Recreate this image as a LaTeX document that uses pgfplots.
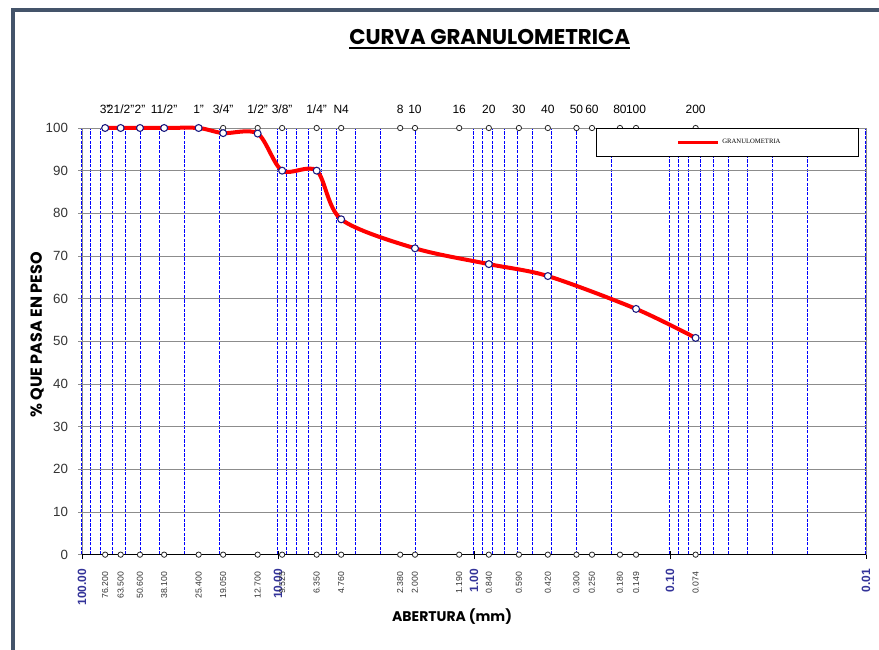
\documentclass[border=0pt]{standalone}
\usepackage{fontspec}
\setmainfont{Liberation Sans}
\newfontfamily\pop{Poppins}
\newfontfamily\timesf{Liberation Serif}
\usepackage{pgfplots}
\pgfplotsset{compat=1.18}
\usepackage{pgfplotstable}

\definecolor{framec}{HTML}{44546A}
\definecolor{navy}{HTML}{1A1A80}
\definecolor{decblue}{HTML}{333399}
\definecolor{gridgray}{HTML}{8C8C8C}

\pgfplotstableread{
x y
76.2 100
63.5 100
50.6 100
38.1 100
25.4 100
19.05 98.8
12.7 98.7
9.525 90.0
6.35 90.0
4.76 78.6
2.0 71.8
0.84 68.1
0.42 65.3
0.149 57.6
0.074 50.8
}\curve

\pgfplotstableread{
x ytop ybot top bot
76.2 100 0 3" 76.200
63.5 100 0 21/2" 63.500
50.6 100 0 2" 50.600
38.1 100 0 11/2" 38.100
25.4 100 0 1" 25.400
19.05 100 0 3/4" 19.050
12.7 100 0 1/2" 12.700
9.525 100 0 3/8" 9.525
6.35 100 0 1/4" 6.350
4.76 100 0 N4 4.760
2.38 100 0 8 2.380
2.0 100 0 10 2.000
1.19 100 0 16 1.190
0.84 100 0 20 0.840
0.59 100 0 30 0.590
0.42 100 0 40 0.420
0.3 100 0 50 0.300
0.25 100 0 60 0.250
0.18 100 0 80 0.180
0.149 100 0 100 0.149
0.074 100 0 200 0.074
}\sieves

\newcommand{\thickul}[1]{\vtop{\hbox{#1}\kern1.6pt\hrule height 1.3pt}}

\begin{document}
\begin{tikzpicture}
\useasboundingbox (-61.5pt,-71.5pt) rectangle (597.75pt,416pt);
\begin{axis}[
  at={(0,0)}, anchor=south west,
  scale only axis, width=588pt, height=320pt,
  xmode=log, x dir=reverse, xmin=0.01, xmax=100,
  ymin=0, ymax=100,
  clip=false,
  xtick={0.01,0.1,1,10,100},
  xticklabels={0.01,0.10,1.00,10.00,100.00},
  minor xtick={0.02,0.03,0.04,0.05,0.06,0.07,0.08,0.09,0.2,0.3,0.4,0.5,0.6,0.7,0.8,0.9,2,3,4,5,6,7,8,9,20,30,40,50,60,70,80,90},
  ytick={0,10,...,100},
  xmajorgrids, xminorgrids, ymajorgrids,
  major x grid style={blue, dash pattern=on 2.5pt off 1pt, line width=0.75pt},
  minor x grid style={blue, dash pattern=on 2.5pt off 1pt, line width=0.75pt},
  major y grid style={gridgray, line width=0.6pt},
  axis line style={gridgray, line width=0.6pt},
  tick align=center, tick pos=left,
  major tick length=6pt, minor tick length=0pt,
  xtick style={black, line width=0.6pt},
  ytick style={gridgray, line width=0.6pt},
  /pgf/number format/assume math mode=true,
  yticklabel style={font=\fontsize{10}{12}\selectfont, text=black!80, xshift=-4pt},
  xticklabel style={yshift=-4pt, rotate=90, anchor=east, font=\bfseries\fontsize{9}{10}\selectfont, text=decblue},
  title={\thickul{CURVA GRANULOMETRICA}},
  title style={at={(0.52,1.19)}, anchor=center, font=\pop\bfseries\fontsize{16}{19}\selectfont},
  xlabel={ABERTURA (mm)},
  xlabel style={at={(0.472,-0.146)}, anchor=center, font=\pop\bfseries\fontsize{10.5}{12}\selectfont},
  ylabel={\% QUE PASA EN PESO},
  ylabel style={at={(-0.0574,0.515)}, anchor=center, font=\pop\bfseries\fontsize{12}{14}\selectfont},
  legend style={at={(0.991,1)}, anchor=north east, draw=black, line width=0.8pt, fill=white,
    inner xsep=0pt, inner ysep=8pt,
    font=\timesf\fontsize{5}{6}\selectfont,
    nodes={text width=100pt, align=left, inner xsep=2pt, inner ysep=0pt}},
  legend cell align=left,
]
\draw[black, line width=0.6pt] (rel axis cs:0,0) -- (rel axis cs:1,0);

\addplot[black, only marks, mark=*, mark size=2pt,
  mark options={fill=white, draw=black!85, line width=0.6pt},
  nodes near coords, point meta=explicit symbolic,
  every node near coord/.style={anchor=base, yshift=10.5pt, inner sep=0pt, font=\fontsize{9}{10}\selectfont, text=black},
  forget plot] table[x=x, y=ytop, meta=top] {\sieves};

\addplot[black, only marks, mark=*, mark size=2pt,
  mark options={fill=white, draw=black!85, line width=0.6pt},
  nodes near coords, point meta=explicit symbolic,
  every node near coord/.style={yshift=-12.8pt, rotate=90, anchor=east, inner sep=0pt, font=\fontsize{6.5}{7}\selectfont, text=black!80},
  forget plot] table[x=x, y=ybot, meta=bot] {\sieves};

\addplot[red, line width=3pt, smooth, mark=*, mark size=2.6pt,
  mark options={solid, fill=white, draw=navy, line width=0.8pt},
  legend image code/.code={\path[draw=none] (-61pt,0pt) -- (0pt,0pt); \draw[red, line width=2.2pt] (0pt,0pt) -- (30pt,0pt);}
  ] table[x=x, y=y] {\curve};
\addlegendentry{GRANULOMETRIA}
\end{axis}
\draw[framec, line width=3pt] (-51.75pt,-80pt) -- (-51.75pt,408.5pt) -- (620pt,408.5pt);
\end{tikzpicture}
\end{document}
